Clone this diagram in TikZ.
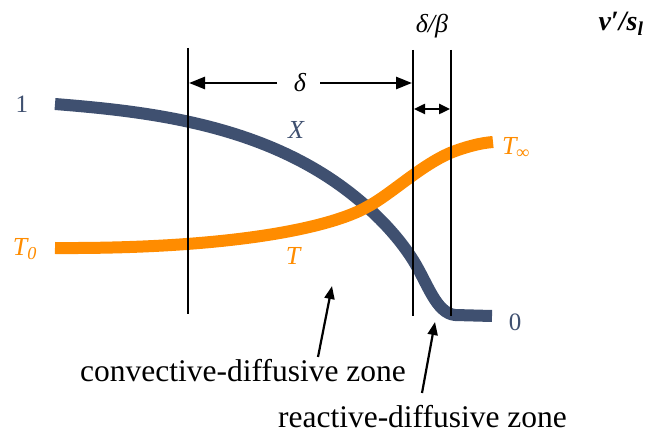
\documentclass[tikz,border=0pt]{standalone}
\usepackage{fontspec}
\setmainfont{Liberation Serif}
\usetikzlibrary{arrows.meta}
\definecolor{xblue}{HTML}{3F5070}
\definecolor{torange}{HTML}{FF8C00}
\begin{document}
\begin{tikzpicture}[x=1pt,y=-1pt,
  vline/.style={line width=2pt},
  dimarrow/.style={line width=2.6pt,-{Triangle[length=16pt,width=12pt]}},
  dimarrowb/.style={line width=2.4pt,{Triangle[length=11pt,width=10pt]}-{Triangle[length=11pt,width=10pt]}},
  ptr/.style={line width=2.2pt,-{Triangle[length=13pt,width=10pt]}},
  curve/.style={line width=12pt,line cap=butt,line join=round},
  lbl/.style={inner sep=0pt,font=\fontsize{26}{30}\selectfont},
  biglbl/.style={inner sep=0pt,font=\fontsize{25}{28}\selectfont},
  zone/.style={inner sep=0pt,anchor=base,font=\fontsize{31.5}{36}\selectfont}]
\useasboundingbox (0,0) rectangle (664,435);
% curves
\coordinate (xs) at (55,104); \coordinate (xc) at (367,207); \coordinate (xm) at (413,260);
\coordinate (xb) at (455,315); \coordinate (xe) at (492,316);
\draw[curve,xblue] (xs) .. controls (155,112) and (277,126) .. (xc)
  .. controls (385,223) and (401,241) .. (xm)
  .. controls (428,284) and (436,313) .. (xb) -- (xe);
\coordinate (ts) at (55,248); \coordinate (tm) at (450,153); \coordinate (te) at (493,142);
\draw[curve,torange] (ts) .. controls (230,249) and (330,228) .. (xc)
  .. controls (390,195) and (420,166) .. (tm)
  .. controls (465,147) and (480,143) .. (te);
% vertical lines
\coordinate (a1) at (188,48); \coordinate (a2) at (188,314);
\coordinate (b1) at (413,50); \coordinate (b2) at (413,316);
\coordinate (c1) at (451,50); \coordinate (c2) at (451,316);
\draw[vline] (a1) -- (a2);
\draw[vline] (b1) -- (b2);
\draw[vline] (c1) -- (c2);
% delta
\node[lbl] (delta) at (300,83) {\itshape δ};
\coordinate (dl) at (189,83); \coordinate (dr) at (412,83);
\coordinate (dlt) at (277,83); \coordinate (drt) at (320,83);
\draw[dimarrow] (dlt) -- (dl);
\draw[dimarrow] (drt) -- (dr);
\node[lbl] (db) at (432,26) {\itshape δ/β};
\coordinate (el) at (414,109); \coordinate (er) at (450,109);
\draw[dimarrowb] (el) -- (er);
\node[inner sep=0pt,font=\fontsize{28}{32}\selectfont] (vs) at (621,24) {\bfseries\itshape v′/s\textsubscript{l}};
% labels
\node[biglbl,text=xblue] (one) at (22,104) {1};
\node[biglbl,text=xblue] (zero) at (515,322) {0};
\node[lbl,text=torange] (t0) at (25,249) {\itshape T\textsubscript{0}};
\node[lbl,text=torange] (tinf) at (516,148) {\itshape T\textsubscript{∞}};
\node[lbl,text=xblue] (xl) at (296,130) {\itshape X};
\node[lbl,text=torange] (tl) at (293,256) {\itshape T};
% zones
\node[zone] (cz) at (243,382) {convective-diffusive zone};
\node[zone] (rz) at (422.5,428) {reactive-diffusive zone};
\coordinate (p1t) at (318,357); \coordinate (p1h) at (332,286);
\coordinate (p2t) at (422,393); \coordinate (p2h) at (435,322);
\draw[ptr] (p1t) -- (p1h);
\draw[ptr] (p2t) -- (p2h);
\end{tikzpicture}
\end{document}
